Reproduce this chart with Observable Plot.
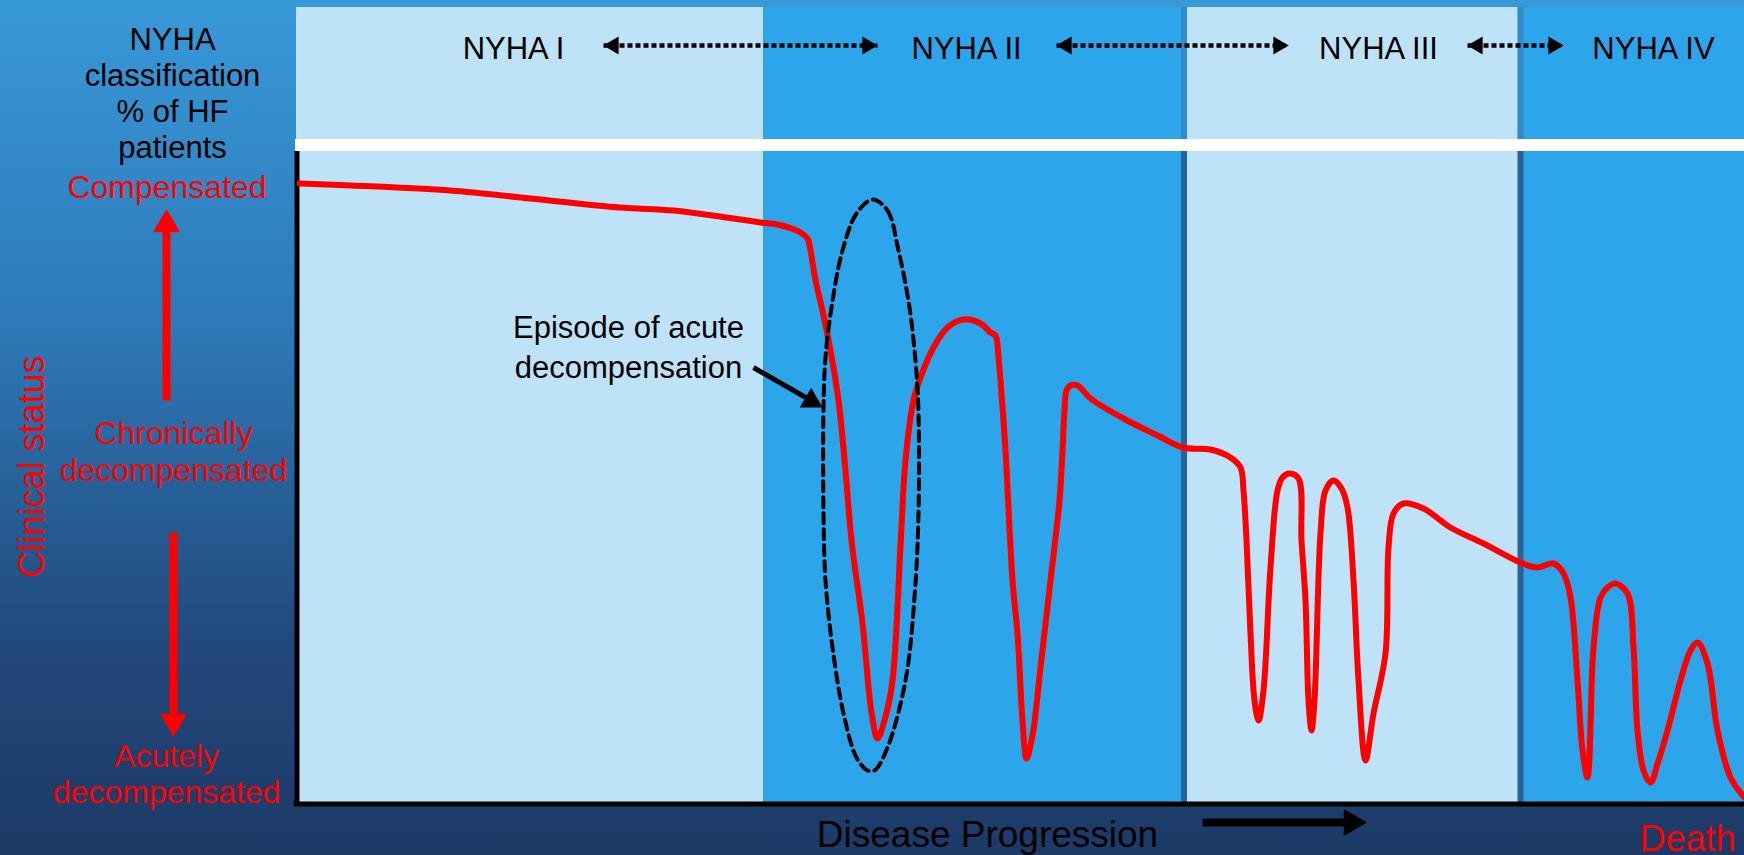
<!DOCTYPE html>
<html>
<head>
<meta charset="utf-8">
<script src="https://cdn.jsdelivr.net/npm/d3@7"></script>
<script src="https://cdn.jsdelivr.net/npm/@observablehq/plot@0.6"></script>
<style>
  html, body { margin: 0; padding: 0; background: #1c3a66; }
  #chart svg { display: block; }
</style>
</head>
<body>
<div id="chart"></div>
<script>
// NYHA stages laid out along the disease-progression axis
const stageNames = ["NYHA I", "NYHA II", "NYHA III", "NYHA IV"];
const stageStart = [0, 46.7, 88.75, 122.4];
const stageEnd = [46.7, 88.75, 122.4, 144.8];
const stageTone = ["light", "bright", "light", "bright"];
const stageLabelAt = [21.7, 67.0, 108.2, 135.7];

// clinical status over time (progression, status)
const progression = [
  0.3, 5.4, 15.4, 23.4, 32.3, 37.7, 43.0, 46.4, 48.1, 50.4, 51.1, 51.4, 51.9, 52.6, 53.4, 54.2,
  54.9, 55.5, 56.6, 57.5, 58.1, 58.8, 59.6, 60.4, 60.9, 61.7, 62.4, 63.7, 65.1, 66.7, 68.4, 69.4,
  69.9, 70.2, 70.6, 70.9, 71.6, 72.1, 72.6, 73.0, 73.6, 74.4, 75.4, 76.3, 76.6, 76.8, 77.0, 77.4,
  78.1, 79.4, 82.7, 86.1, 88.6, 91.4, 93.4, 94.4, 94.7, 95.0, 95.4, 95.8, 96.2, 96.7, 97.4, 98.1,
  98.6, 99.3, 100.2, 100.5, 100.9, 101.2, 101.5, 101.8, 102.4, 102.9, 103.7, 104.5, 105.1, 105.7, 106.2, 106.9,
  107.7, 108.9, 109.2, 109.7, 110.7, 112.7, 115.4, 118.7, 122.4, 124.1, 125.7, 126.7, 127.4, 128.1, 128.6, 129.1,
  129.7, 130.4, 131.1, 131.9, 133.1, 133.7, 134.1, 134.7, 135.4, 136.2, 137.1, 138.4, 139.4, 140.1, 141.1, 142.1,
  143.4, 144.8
];
const status = [
  62.0, 61.8, 61.3, 60.5, 59.6, 59.3, 58.6, 58.1, 57.9, 57.1, 56.5, 55.3, 52.3, 49.3, 45.3, 40.3,
  33.3, 26.3, 18.0, 9.1, 6.5, 8.3, 12.3, 25.8, 34.3, 40.3, 42.6, 45.6, 47.6, 48.4, 48.0, 47.1,
  46.8, 44.6, 39.6, 35.3, 22.3, 17.0, 8.3, 4.5, 6.8, 13.6, 22.3, 30.3, 35.3, 39.3, 41.3, 41.8,
  41.8, 40.5, 38.5, 36.8, 35.6, 35.4, 34.6, 33.6, 31.3, 26.3, 17.0, 10.3, 8.3, 11.3, 23.6, 31.3,
  32.6, 33.0, 32.5, 26.3, 20.3, 10.3, 7.3, 10.3, 27.0, 31.3, 32.3, 31.5, 29.6, 22.3, 12.3, 4.3,
  9.0, 15.0, 25.6, 29.0, 30.0, 29.5, 27.6, 26.0, 24.1, 23.6, 24.0, 23.0, 20.6, 12.3, 5.3, 2.6,
  15.6, 20.6, 21.6, 22.0, 21.0, 15.6, 7.3, 3.3, 2.1, 4.3, 7.3, 12.3, 15.3, 16.1, 14.0, 7.3,
  2.6, 0.6
];

// outline of the highlighted episode of acute decompensation
const episodeX = [57.6, 59.1, 60.2, 61.3, 62.0, 62.2, 62.2, 61.8, 60.9, 59.1, 57.8, 57.1, 56.0, 54.7, 53.6, 52.9, 52.7, 52.7, 52.9, 53.5, 54.6, 56.0];
const episodeY = [60.4, 59.3, 55.3, 49.6, 43.0, 39.0, 29.0, 20.6, 12.3, 5.6, 3.3, 3.3, 4.6, 9.0, 15.6, 22.3, 29.0, 39.6, 44.6, 49.6, 55.3, 59.0];

// clinical status levels on the left
const statusLabels = ["Compensated", "Chronically\ndecompensated", "Acutely\ndecompensated"];

const stages = stageNames.map((name, i) => ({name, start: stageStart[i], end: stageEnd[i], tone: stageTone[i], at: stageLabelAt[i]}));
const trajectory = progression.map((x, i) => ({x, y: status[i]}));
const episode = episodeX.map((x, i) => ({x, y: episodeY[i]}));

// layout levels (status units) for the header band above the chart
const PLOT_TOP = 65.2;
const STRIP_TOP = 66.4;
const HEADER_TOP = 79.6;
const HEADER_ARROW_Y = 75.8;
const headerArrows = [[30.7, 58.1], [76.0, 99.2], [117.1, 126.7]];

const FONT = "'Liberation Sans', Arial, Helvetica, sans-serif";
const RED = "#ff0000";
const LIGHT = "#bee3f8";
const BRIGHT = "#2ca5ea";

const chart = Plot.plot({
  width: 1744,
  height: 855,
  margin: 0,
  x: {domain: [0, 144.8], range: [296, 1744], axis: null},
  y: {domain: [0, 65.2], range: [803, 151], axis: null},
  style: {
    background: "linear-gradient(180deg, #3899d9 0%, #2d77b5 40%, #22497c 75%, #1c3a66 100%)",
    fontFamily: FONT
  },
  marks: [
    // stage columns (header band and chart body)
    Plot.rect(stages.filter(d => d.tone === "light"), {x1: "start", x2: "end", y1: -0.3, y2: HEADER_TOP, fill: LIGHT}),
    Plot.rect(stages.filter(d => d.tone === "bright"), {x1: "start", x2: "end", y1: -0.3, y2: HEADER_TOP, fill: BRIGHT}),
    Plot.ruleX(stageStart.slice(2), {y1: 0, y2: PLOT_TOP, stroke: "#29629a", strokeWidth: 6}),
    Plot.ruleX(stageStart.slice(2), {y1: STRIP_TOP, y2: HEADER_TOP, stroke: "#2f8bcb", strokeWidth: 6}),
    // white strip between header and chart
    Plot.rect([0], {x1: -0.1, x2: 144.8, y1: PLOT_TOP, y2: STRIP_TOP, fill: "white"}),

    // axes
    Plot.ruleY([0], {x1: -0.25, x2: 144.8, stroke: "black", strokeWidth: 5, dy: 0.5}),
    Plot.ruleX([0], {y1: -0.3, y2: PLOT_TOP, stroke: "black", strokeWidth: 5, dx: 0.5}),

    // clinical status trajectory
    Plot.line(trajectory, {x: "x", y: "y", curve: "catmull-rom", stroke: RED, strokeWidth: 6, strokeLinejoin: "round", strokeLinecap: "round"}),

    // highlighted episode
    Plot.line(episode, {x: "x", y: "y", curve: "catmull-rom-closed", stroke: "black", strokeWidth: 4, strokeDasharray: "10,6"}),
    Plot.link([0], {x1: 45.7, y1: 43.6, x2: 51.8, y2: 40.1, stroke: "black", strokeWidth: 5}),
    Plot.dot([0], {x: 52.6, y: 39.6, dx: -11.3, dy: -6.5, symbol: "triangle", r: 8.5, rotate: 120, fill: "black"}),
    Plot.text(["Episode of acute\ndecompensation"], {x: 33.2, y: 42.6, text: d => d, lineAnchor: "bottom", lineHeight: 1.29, fontSize: 31, fill: "black", fontFamily: FONT}),

    // header: stage names and dashed transitions
    Plot.text(stages, {x: "at", y: 74.5, text: "name", lineAnchor: "bottom", fontSize: 31, fill: "black", fontFamily: FONT}),
    Plot.link(headerArrows, {x1: d => d[0], x2: d => d[1], y1: HEADER_ARROW_Y, y2: HEADER_ARROW_Y, stroke: "black", strokeWidth: 4.5, strokeDasharray: "5,3"}),
    Plot.dot(headerArrows, {x: d => d[0], y: HEADER_ARROW_Y, dx: 10, symbol: "triangle", r: 6.6, rotate: -90, fill: "black"}),
    Plot.dot(headerArrows, {x: d => d[1], y: HEADER_ARROW_Y, dx: -10, symbol: "triangle", r: 6.6, rotate: 90, fill: "black"}),

    // left panel
    Plot.text(["NYHA\nclassification\n% of HF\npatients"], {x: -12.4, y: 64.6, text: d => d, lineAnchor: "bottom", lineHeight: 1.16, fontSize: 31, fill: "black", fontFamily: FONT}),
    Plot.text([statusLabels[0]], {x: -12.95, y: 60.6, text: d => d, lineAnchor: "bottom", fontSize: 32, fill: RED, fontFamily: FONT}),
    Plot.text([statusLabels[1]], {x: -12.3, y: 32.3, text: d => d, lineAnchor: "bottom", lineHeight: 1.156, fontSize: 32, fill: RED, fontFamily: FONT}),
    Plot.text([statusLabels[2]], {x: -13.0, y: 0.1, text: d => d, lineAnchor: "bottom", lineHeight: 1.125, fontSize: 32, fill: RED, fontFamily: FONT}),
    Plot.link([0], {x1: -13.0, x2: -13.0, y1: 40.3, y2: 57.9, stroke: RED, strokeWidth: 8}),
    Plot.dot([0], {x: -13.0, y: 57.9, symbol: "triangle", r: 10, fill: RED}),
    Plot.link([0], {x1: -12.3, x2: -12.3, y1: 27.1, y2: 8.2, stroke: RED, strokeWidth: 8}),
    Plot.dot([0], {x: -12.3, y: 8.2, symbol: "triangle", r: 10, rotate: 180, fill: RED}),
    Plot.text(["Clinical status"], {x: -26.4, y: 33.7, text: d => d, rotate: -90, fontSize: 36, fill: RED, fontFamily: FONT}),

    // bottom: progression label, arrow and death
    Plot.text(["Disease Progression"], {x: 69.1, y: -4.3, text: d => d, lineAnchor: "bottom", fontSize: 37, fill: "black", fontFamily: FONT}),
    Plot.link([0], {x1: 90.6, x2: 105.3, y1: -1.9, y2: -1.9, stroke: "black", strokeWidth: 8}),
    Plot.dot([0], {x: 105.5, y: -1.9, symbol: "triangle", r: 10, rotate: 90, fill: "black"}),
    Plot.text(["Death"], {x: 139.1, y: -4.7, text: d => d, lineAnchor: "bottom", fontSize: 36, fill: RED, fontFamily: FONT})
  ]
});

document.getElementById("chart").appendChild(chart);
</script>
</body>
</html>
